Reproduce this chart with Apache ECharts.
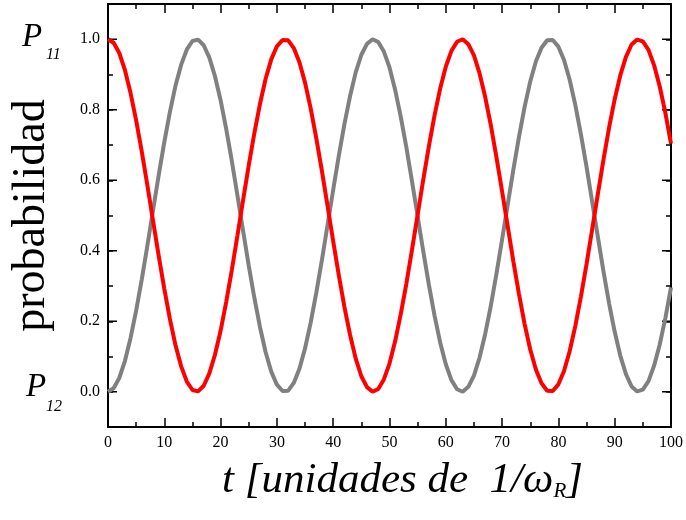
<!DOCTYPE html>
<html>
<head>
<meta charset="utf-8">
<script src="https://cdn.jsdelivr.net/npm/echarts@6/dist/echarts.min.js"></script>
<style>
  html, body { margin: 0; padding: 0; background: #fff; }
  #chart { width: 686px; height: 520px; }
</style>
</head>
<body>
<div id="chart"></div>
<script>
// time axis samples, in units of 1/omega_R
var times = [
  0, 1, 2, 3, 4, 5, 6, 7, 8, 9,
  10, 11, 12, 13, 14, 15, 16, 17, 18, 19,
  20, 21, 22, 23, 24, 25, 26, 27, 28, 29,
  30, 31, 32, 33, 34, 35, 36, 37, 38, 39,
  40, 41, 42, 43, 44, 45, 46, 47, 48, 49,
  50, 51, 52, 53, 54, 55, 56, 57, 58, 59,
  60, 61, 62, 63, 64, 65, 66, 67, 68, 69,
  70, 71, 72, 73, 74, 75, 76, 77, 78, 79,
  80, 81, 82, 83, 84, 85, 86, 87, 88, 89,
  90, 91, 92, 93, 94, 95, 96, 97, 98, 99,
  100
];

// occupation probability of state 1 (red)
var p11 = [
  1.000, 0.990, 0.961, 0.913, 0.848, 0.770, 0.681, 0.585, 0.485, 0.386,
  0.292, 0.206, 0.131, 0.072, 0.029, 0.005, 0.001, 0.017, 0.052, 0.105,
  0.173, 0.255, 0.346, 0.444, 0.544, 0.642, 0.734, 0.817, 0.888, 0.943,
  0.980, 0.998, 0.997, 0.975, 0.935, 0.877, 0.804, 0.719, 0.626, 0.527,
  0.427, 0.330, 0.240, 0.161, 0.094, 0.044, 0.013, 0.000, 0.008, 0.035,
  0.080, 0.143, 0.220, 0.307, 0.403, 0.502, 0.602, 0.697, 0.784, 0.860,
  0.922, 0.967, 0.993, 1.000, 0.986, 0.954, 0.903, 0.836, 0.756, 0.665,
  0.568, 0.469, 0.370, 0.277, 0.192, 0.120, 0.063, 0.024, 0.003, 0.002,
  0.021, 0.059, 0.115, 0.186, 0.270, 0.362, 0.461, 0.560, 0.658, 0.749,
  0.830, 0.898, 0.950, 0.985, 0.999, 0.994, 0.970, 0.926, 0.866, 0.791,
  0.704
];

// occupation probability of state 2 (gray)
var p12 = [
  0.000, 0.010, 0.039, 0.087, 0.152, 0.230, 0.319, 0.415, 0.515, 0.614,
  0.708, 0.794, 0.869, 0.928, 0.971, 0.995, 0.999, 0.983, 0.948, 0.895,
  0.827, 0.745, 0.654, 0.556, 0.456, 0.358, 0.266, 0.183, 0.112, 0.057,
  0.020, 0.002, 0.003, 0.025, 0.065, 0.123, 0.196, 0.281, 0.374, 0.473,
  0.573, 0.670, 0.760, 0.839, 0.906, 0.956, 0.987, 1.000, 0.992, 0.965,
  0.920, 0.857, 0.780, 0.693, 0.597, 0.498, 0.398, 0.303, 0.216, 0.140,
  0.078, 0.033, 0.007, 0.000, 0.014, 0.046, 0.097, 0.164, 0.244, 0.335,
  0.432, 0.531, 0.630, 0.723, 0.808, 0.880, 0.937, 0.976, 0.997, 0.998,
  0.979, 0.941, 0.885, 0.814, 0.730, 0.638, 0.539, 0.440, 0.342, 0.251,
  0.170, 0.102, 0.050, 0.015, 0.001, 0.006, 0.030, 0.074, 0.134, 0.209,
  0.296
];

var yLabels = ['0.0', '0.2', '0.4', '0.6', '0.8', '1.0'];

var SERIF = '"Liberation Serif", "Times New Roman", serif';

function pairs(xs, ys) {
  return xs.map(function (x, i) { return [x, ys[i]]; });
}

var chart = echarts.init(document.getElementById('chart'), null, { renderer: 'canvas' });

var frameLine = { show: true, onZero: false, lineStyle: { color: '#000', width: 2 } };
var majorTick = { show: true, inside: true, length: 9, lineStyle: { color: '#000', width: 1.5 } };
var minorTick = { show: true, splitNumber: 2, length: 5, lineStyle: { color: '#000', width: 1.5 } };

function yLabel(v) {
  var r = Math.round(v * 10);
  if (r % 2 !== 0 || r < 0 || r > 10) return '';
  return yLabels[r / 2];
}

var option = {
  backgroundColor: '#fff',
  animation: false,
  grid: { left: 108, right: 12, top: 4, bottom: 93, containLabel: false },
  xAxis: [
    {
      type: 'value', position: 'bottom', min: 0, max: 100, interval: 10,
      axisLine: frameLine, axisTick: majorTick, minorTick: minorTick,
      splitLine: { show: false },
      axisLabel: { color: '#000', fontFamily: SERIF, fontSize: 16, margin: 8 },
      name: '{a|t [unidades de  1/ω}{b|R}{a|]}',
      nameLocation: 'middle', nameGap: 29,
      nameTextStyle: {
        padding: [0, 0, 0, 26],
        rich: {
          a: { fontFamily: SERIF, fontStyle: 'italic', fontSize: 43, color: '#000', verticalAlign: 'bottom', lineHeight: 46 },
          b: { fontFamily: SERIF, fontStyle: 'italic', fontSize: 21, color: '#000', verticalAlign: 'bottom', lineHeight: 20 }
        }
      }
    },
    {
      type: 'value', position: 'top', min: 0, max: 100, interval: 10,
      axisLine: frameLine, axisTick: majorTick, minorTick: minorTick,
      splitLine: { show: false }, axisLabel: { show: false }
    }
  ],
  yAxis: [
    {
      type: 'value', position: 'left', min: -0.1, max: 1.1, interval: 0.1,
      axisLine: frameLine,
      axisTick: { show: true, inside: true, length: 5, lineStyle: { color: '#000', width: 1.5 } },
      splitLine: { show: false },
      axisLabel: { color: '#000', fontFamily: SERIF, fontSize: 16, margin: 8, formatter: yLabel },
      name: 'probabilidad', nameLocation: 'middle', nameGap: 53,
      nameTextStyle: { fontFamily: SERIF, fontSize: 46, color: '#000' }
    },
    {
      type: 'value', position: 'right', min: -0.1, max: 1.1, interval: 0.1,
      axisLine: frameLine,
      axisTick: { show: true, inside: true, length: 5, lineStyle: { color: '#000', width: 1.5 } },
      splitLine: { show: false }, axisLabel: { show: false }
    }
  ],
  series: [
    {
      name: 'P11', type: 'line', xAxisIndex: 0, yAxisIndex: 0,
      data: pairs(times, p11), showSymbol: false, smooth: false,
      lineStyle: { color: '#ff0000', width: 4 }, z: 3
    },
    {
      name: 'P12', type: 'line', xAxisIndex: 0, yAxisIndex: 0,
      data: pairs(times, p12), showSymbol: false, smooth: false,
      lineStyle: { color: '#808080', width: 4 }, z: 2
    }
  ]
};

chart.setOption(option);

// longer ticks at the labelled levels, plus the P11 / P12 state labels
function decorate() {
  var xL = chart.convertToPixel({ xAxisIndex: 0 }, 0);
  var xR = chart.convertToPixel({ xAxisIndex: 0 }, 100);
  var els = [];
  for (var k = 0; k < yLabels.length; k++) {
    var y = chart.convertToPixel({ yAxisIndex: 0 }, parseFloat(yLabels[k]));
    els.push({ type: 'line', shape: { x1: xL, y1: y, x2: xL + 9, y2: y }, style: { stroke: '#000', lineWidth: 1.5 }, silent: true });
    els.push({ type: 'line', shape: { x1: xR - 9, y1: y, x2: xR, y2: y }, style: { stroke: '#000', lineWidth: 1.5 }, silent: true });
  }
  var y1 = chart.convertToPixel({ yAxisIndex: 0 }, 1);
  var y0 = chart.convertToPixel({ yAxisIndex: 0 }, 0);
  function stateLabel(x, yP, ySub, sub) {
    els.push({ type: 'text', x: x, y: yP, style: { text: 'P', font: 'italic 33px ' + SERIF, fill: '#000', verticalAlign: 'top', align: 'left' } });
    els.push({ type: 'text', x: 46, y: ySub, style: { text: sub, font: 'italic 16px ' + SERIF, fill: '#000', verticalAlign: 'top', align: 'left' } });
  }
  stateLabel(22, y1 - 18, y1 + 8, '11');
  stateLabel(26, y0 - 21, y0 + 7, '12');
  chart.setOption({ graphic: { elements: els } });
}
decorate();
</script>
</body>
</html>
